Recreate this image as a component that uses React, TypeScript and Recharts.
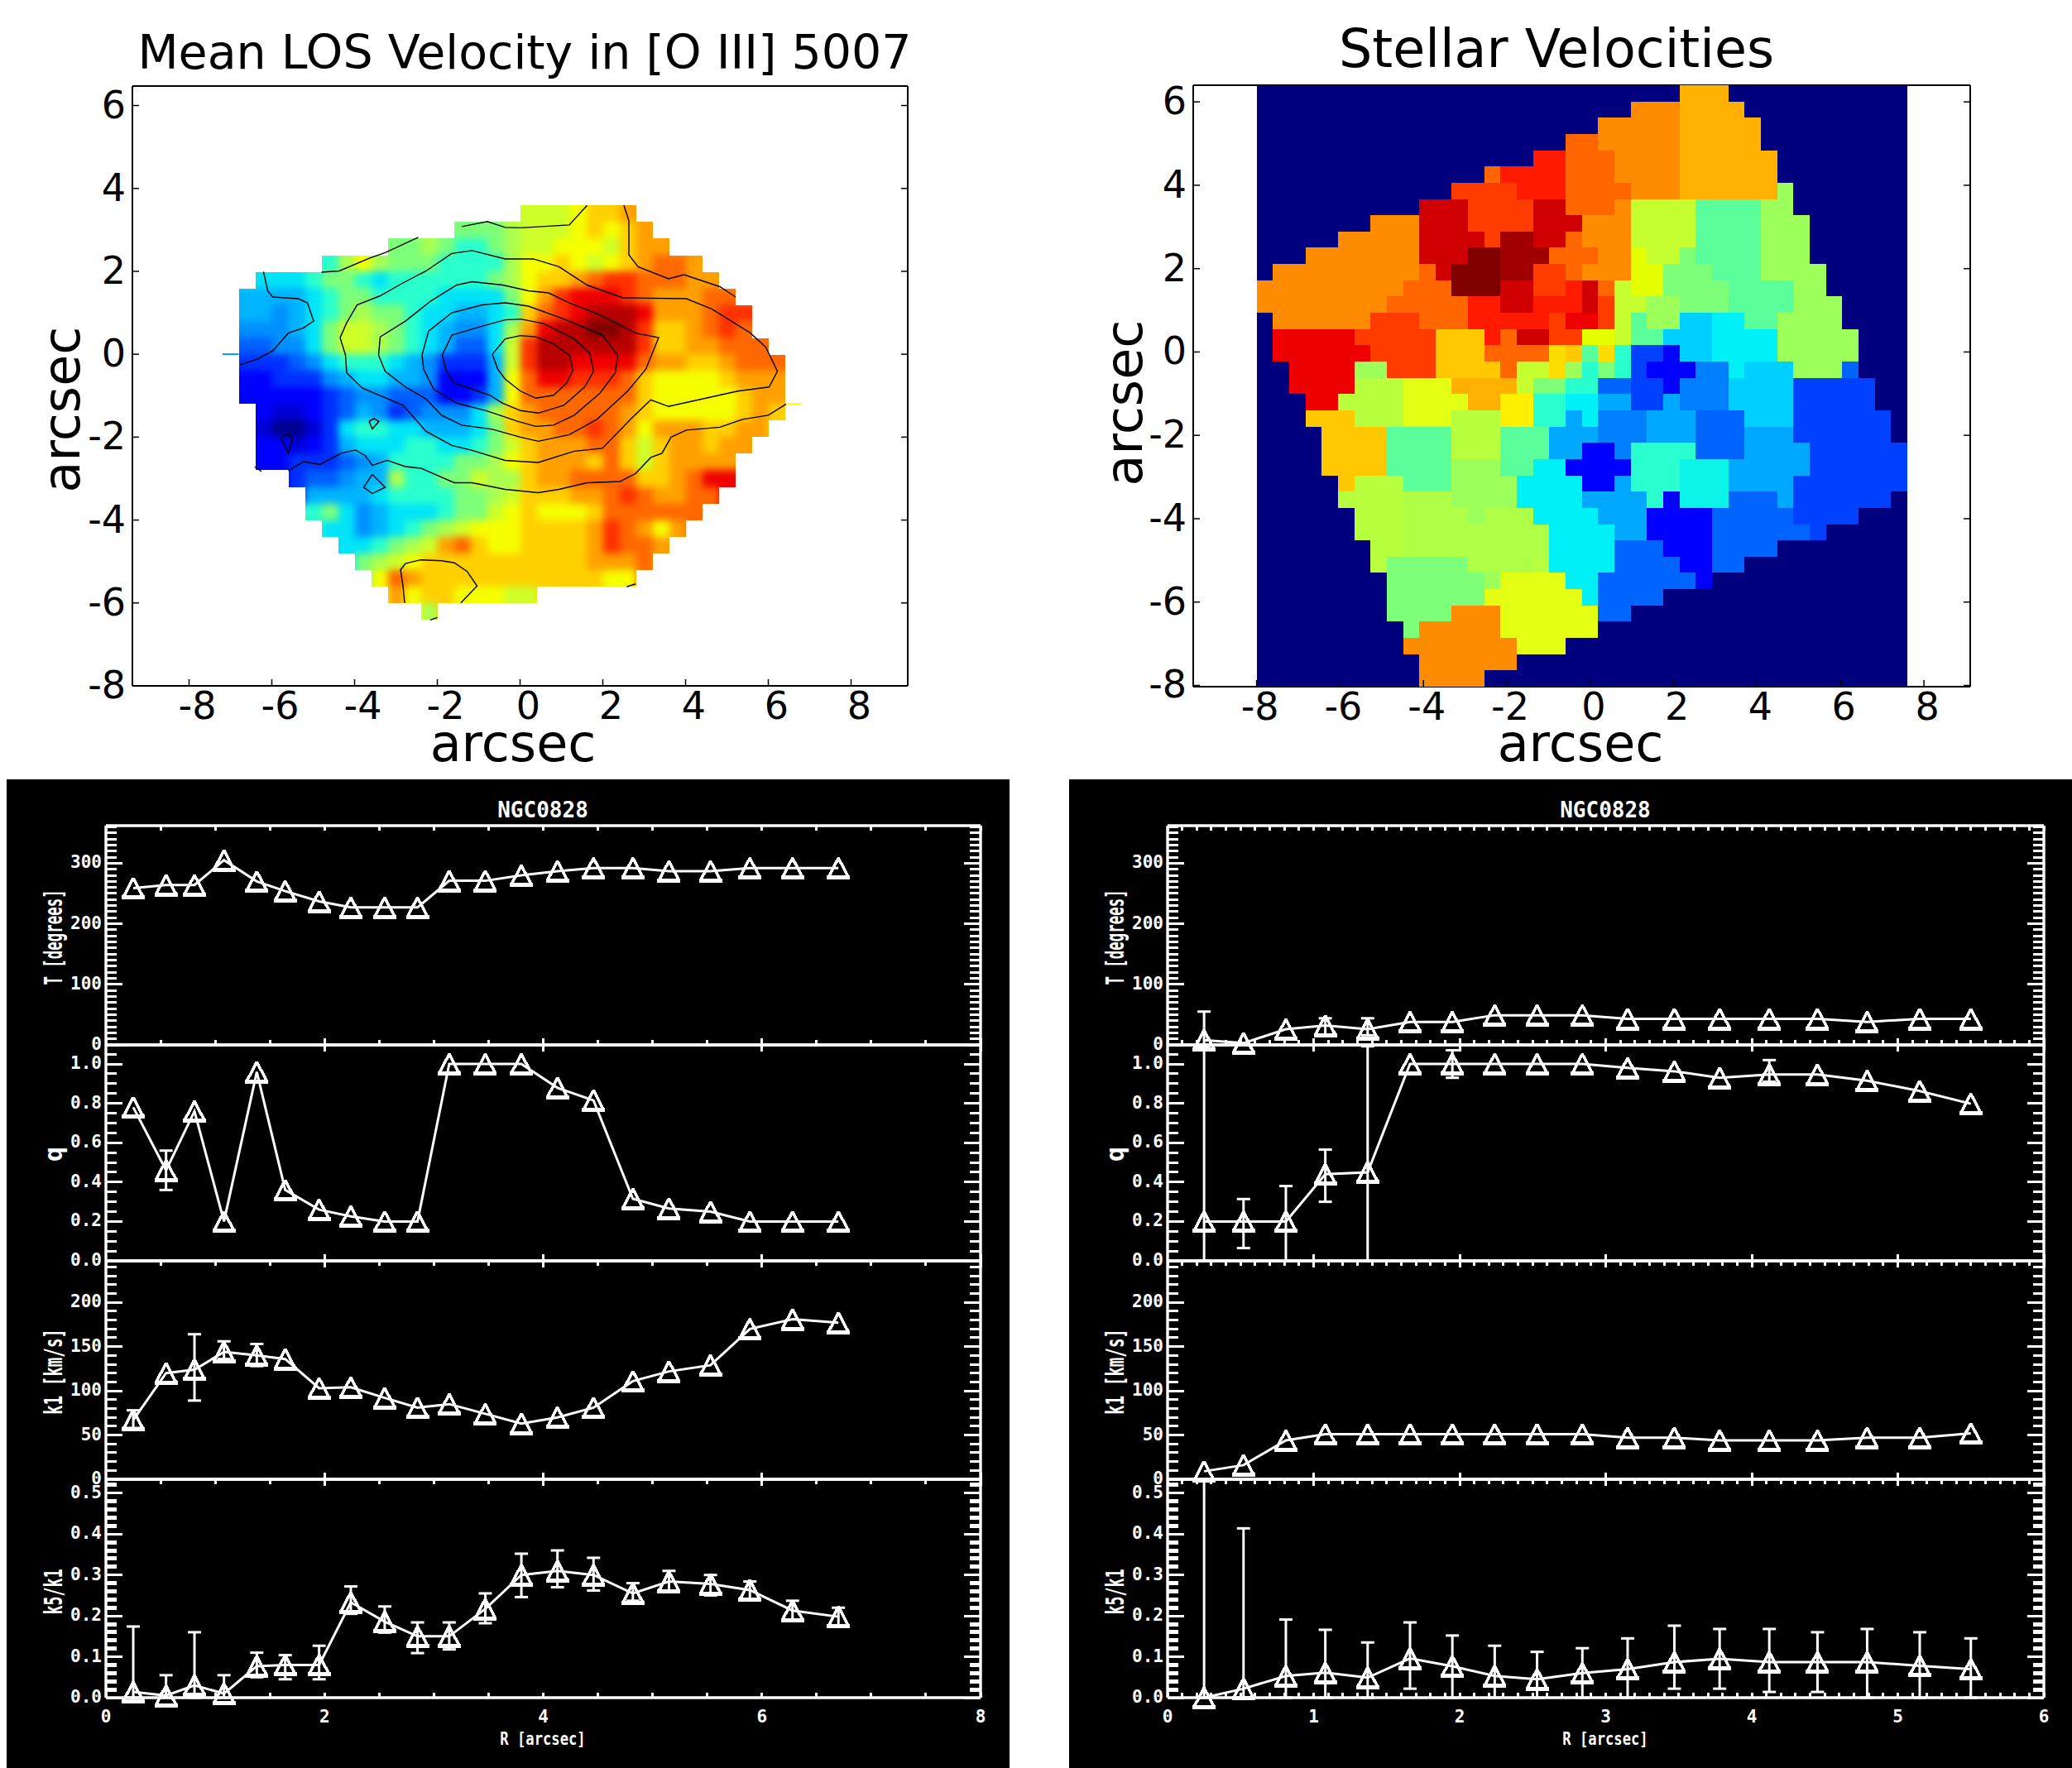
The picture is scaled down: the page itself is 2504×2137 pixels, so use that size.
import { ScatterChart, Scatter, XAxis, YAxis, LineChart, Line, ErrorBar } from 'recharts';

// ---- [O III] velocity map: rows top to bottom, "startCol code+endCol ..."
const VEL_COLORS: Record<string, string> = {
  a: '#00008f', b: '#0000d6', c: '#0000ff', d: '#0030ff', e: '#0060ff', f: '#0090ff', g: '#00b4ff',
  h: '#00e4f8', i: '#29ffce', j: '#7dff7a', k: '#aaff50', l: '#ceff29', m: '#f5ff00', n: '#ffd000',
  o: '#ffa000', p: '#ff6800', q: '#ff3000', r: '#f00000', s: '#b80000', t: '#800000',
};
const VEL_ROWS = [
  '17 l20 m21 n23 o24',
  '13 j16 k17 l20 m21 n22 m23 n24 o25',
  '9 j11 k12 j13 i15 j16 k17 l19 m22 l23 n24 o26',
  '5 i6 k7 m8 k9 j12 i16 k17 m19 n20 m21 l22 m23 n24 o25 p27 o28',
  '1 h4 i5 j7 i8 h9 i15 j16 k17 m18 n20 o21 p22 q24 p27 o29',
  '0 g4 h5 i6 j8 i12 h16 j17 m18 o19 q20 r23 q24 p25 o28 p30',
  '0 g2 f3 g4 h5 i6 j7 k8 j10 i11 h13 g15 h16 i17 n18 p19 q20 r21 s24 r25 o28 p29 q31',
  '0 f3 g4 h5 j6 l8 k9 j10 i11 h12 g13 f15 h16 k17 o18 r19 s21 t23 s24 q25 n27 o28 p29 q30 p31',
  '0 e2 f4 h5 j6 l8 k9 j10 i11 h12 g13 e15 h16 l17 q18 s24 q25 n27 o29 p32',
  '0 d3 e4 f5 h6 i9 h10 g11 f12 d15 g16 l17 q18 s20 r24 p25 o27 n29 o30 p33',
  '0 c2 d5 f6 g7 h9 g11 f12 c15 g16 m17 p18 r20 q23 p24 n25 m29 n30 o33',
  '0 c5 d6 e7 f9 e12 c14 d15 g16 m17 p24 n25 m30 n31 o33',
  '1 c2 b4 c5 d6 e7 g8 f9 d10 e11 f14 h15 k16 n17 o18 p23 o24 n25 m30 n31 o32 n33',
  '1 b2 a4 b5 d6 h7 i9 h11 g14 h15 j16 n17 o19 p21 q22 p23 o24 m25 o28 n30 o32',
  '1 c3 b4 c5 d6 g7 h10 i12 h14 i15 j16 l17 n18 o21 p23 n24 l25 n26 o28 n29 o31',
  '1 c3 d6 e7 f8 g9 i13 j15 k16 m17 n18 o21 n22 p23 n24 l25 n26 o30',
  '3 d4 e6 f7 g9 k10 i12 j14 l15 k17 n18 o20 p24 n26 o27 p28 r30',
  '4 g8 h9 i13 j15 k16 l17 n20 o22 p23 q24 p25 o27 p29',
  '4 i5 j6 h7 f8 g9 h12 i13 j15 l16 m17 n18 m21 n22 p28',
  '5 h7 f8 g9 h10 i11 j12 k13 l14 m17 n21 o22 q23 p24 o25 m26 o27',
  '6 h8 i9 j10 k11 l12 o13 p14 n15 m17 n21 o22 q23 p25 o26',
  '7 j8 k9 l10 m11 n21 o24 p25',
  '8 m9 p10 o11 n22 m24',
  '9 o10 m11 n13 m16 l18',
  '11 k12',
];

// ---- contour lines over the velocity map, [x, y] in arcsec
const CONTOURS: number[][][] = [
  [[-0.67, 0], [-0.36, 0.37], [0.01, 0.45], [0.38, 0.42], [0.81, 0.25], [1.19, -0.02], [1.28, -0.39], [1.12, -0.7], [0.81, -0.99], [0.38, -1.06], [0.01, -0.89], [-0.36, -0.6], [-0.54, -0.36], [-0.67, 0]],
  [[-1.65, 0.46], [-1.88, -0.02], [-1.78, -0.41], [-1.59, -0.7], [-1.16, -0.84], [-0.73, -0.99], [-0.42, -1.18], [0.01, -1.36], [0.44, -1.42], [1.06, -1.23], [1.56, -0.79], [1.78, -0.41], [1.68, 0.03], [1.31, 0.37], [0.57, 0.74], [0.01, 0.85], [-0.36, 0.83], [-0.91, 0.68], [-1.65, 0.46]],
  [[-2.37, -0.02], [-2.21, 0.56], [-1.65, 1.0], [-0.91, 1.19], [-0.36, 1.24], [0.2, 1.16], [1.06, 0.85], [1.99, 0.46], [2.36, -0.02], [2.3, -0.45], [1.93, -0.94], [1.31, -1.47], [0.81, -1.71], [0.38, -1.74], [-0.05, -1.62], [-0.79, -1.37], [-1.53, -1.18], [-2.09, -0.84], [-2.33, -0.36], [-2.37, -0.02]],
  [[-3.42, -0.02], [-3.38, 0.42], [-2.77, 0.8], [-2.15, 1.29], [-1.53, 1.67], [-1.16, 1.75], [-0.42, 1.67], [0.2, 1.53], [0.69, 1.48], [1.19, 1.24], [1.93, 0.95], [2.79, 0.51], [3.35, 0.4], [3.04, -0.36], [2.6, -0.89], [1.86, -1.57], [1.19, -1.94], [0.44, -2.1], [0.01, -2.0], [-0.67, -1.81], [-1.41, -1.71], [-1.9, -1.47], [-2.27, -1.08], [-2.77, -0.79], [-3.26, -0.41], [-3.42, -0.02]],
  [[-4.35, 0.4], [-4.19, 0.76], [-3.94, 1.19], [-3.38, 1.41], [-2.83, 1.72], [-2.27, 2.01], [-1.65, 2.43], [-1.16, 2.5], [-0.36, 2.3], [0.32, 2.3], [0.94, 2.11], [1.62, 1.67], [2.48, 1.36], [4.02, 1.34], [4.64, 1.09], [5.57, 0.51], [5.94, 0.17], [6.22, -0.41], [6.02, -0.79], [5.26, -0.89], [4.4, -1.08], [3.59, -1.26], [3.16, -1.1], [2.67, -1.57], [1.99, -2.27], [1.31, -2.34], [0.44, -2.61], [-0.36, -2.56], [-1.16, -2.32], [-1.65, -2.2], [-2.27, -1.86], [-2.83, -1.23], [-3.81, -0.82], [-4.19, -0.45], [-4.22, -0.02], [-4.35, 0.4]],
  [[-4.8, 1.98], [-4.37, 2.01], [-3.63, 2.32], [-3.26, 2.45], [-2.46, 2.82]],
  [[-1.41, 3.08], [-0.79, 3.2], [-0.36, 3.06], [0.01, 3.05], [1.19, 3.12], [1.62, 3.59]],
  [[2.51, 3.59], [2.63, 3.22], [2.63, 2.4], [2.85, 2.11], [3.59, 1.82], [3.96, 1.92], [4.83, 1.63], [5.21, 1.38]],
  [[-6.2, 1.99], [-6.1, 1.53], [-5.98, 1.38], [-5.36, 1.34], [-5.14, 1.24], [-4.99, 0.8], [-5.23, 0.64], [-5.6, 0.51], [-5.98, 0.08], [-6.35, -0.12], [-6.78, -0.26]],
  [[-5.6, -2.81], [-5.23, -2.59], [-4.83, -2.66], [-4.33, -2.39], [-3.98, -2.31], [-3.75, -2.44], [-3.57, -2.68], [-3.21, -2.56], [-2.77, -2.71], [-2.4, -2.75], [-1.59, -3.1], [-1.16, -3.1], [-0.36, -3.26], [0.44, -3.34], [0.94, -3.26], [1.62, -3.1], [2.42, -3.07], [2.79, -2.88], [3.16, -2.49], [3.43, -2.39], [3.65, -2.0], [4.02, -1.83], [4.83, -1.76], [5.38, -1.57], [6.0, -1.47], [6.43, -1.2]],
  [[-6.41, -2.71], [-6.25, -2.83]],
  [[-3.65, -1.62], [-3.53, -1.55], [-3.41, -1.62], [-3.57, -1.8], [-3.65, -1.62]],
  [[-5.79, -2.0], [-5.58, -1.91], [-5.51, -2.05], [-5.6, -2.39], [-5.79, -2.0]],
  [[-3.57, -2.9], [-3.26, -3.21], [-3.57, -3.36], [-3.78, -3.21], [-3.57, -2.9]],
  [[-2.79, -6.0], [-2.83, -5.59], [-2.89, -5.2], [-2.77, -5.05], [-2.4, -4.96], [-1.9, -4.98], [-1.59, -5.03], [-1.28, -5.24], [-1.04, -5.59], [-1.43, -6.0]],
  [[2.58, -5.61], [2.79, -5.54]],
  [[-2.17, -6.41], [-2.0, -6.35]],
];
const STUB_BLUE = [[-7.19, 0], [-6.8, 0]];
const STUB_YELLOW = [[6.43, -1.2], [6.8, -1.2]];

// ---- stellar velocity bins
const STAR_COLORS: Record<string, string> = {
  N: '#00007f', A: '#ffb000', o: '#ff8c00', p: '#ff6600', q: '#ff3c00', r: '#ff1a00', d: '#d00000',
  D: '#a00000', K: '#800000', e: '#ee0000', g: '#ffc800', G: '#ffdc00', Z: '#fff000', y: '#e6ff00',
  Y: '#e2ff14', l: '#c6ff30', L: '#b8ff3e', M: '#b0ff47', m: '#9cff5a', v: '#7dff7a', t: '#5aff9c',
  i: '#29ffce', C: '#0cf4ea', c: '#00f0f8', s: '#00d0ff', b: '#00a8ff', B: '#0080ff', f: '#0064ff',
  F: '#0040ff', u: '#0000ff',
};
const STAR_ROWS = [
  '26 A29',
  '23 o26 A30',
  '21 o26 A31',
  '19 p21 o26 A31',
  '17 r19 p22 o26 A32',
  '14 p15 r19 p22 o26 A32',
  '12 q16 r19 p23 o26 A32 m33',
  '10 d13 q17 d19 p22 o23 l27 t31 m33',
  '7 o10 d13 q17 d20 o23 l27 t31 m34',
  '5 o10 d14 q15 D17 d19 p20 o23 l27 t31 m34',
  '3 o10 d13 K15 D18 p21 o23 y24 l26 v27 t31 m34',
  '1 o10 p11 d12 K15 D17 q19 p20 o23 y25 v28 t31 m35',
  '0 o9 p12 K15 d17 q19 r20 d21 p22 l23 y25 v29 t33 m35',
  '0 o8 p13 r15 d17 r20 d21 q22 l24 m26 v29 t33 m36',
  '1 o7 q10 p13 r18 q19 e21 q22 l23 t24 m26 s28 c30 t32 m36',
  '1 e6 q11 g14 r15 p16 d18 q20 y22 l23 t25 s28 c32 m37',
  '1 e7 q11 g14 p18 G19 g20 t21 G22 i23 F25 u26 s28 c32 m37',
  '2 e6 m8 q11 g15 p16 l18 G19 m20 i21 v22 i23 F24 u27 B29 c30 s33 m36 f37',
  '2 e6 L9 Y12 A16 l17 v19 i21 f23 F25 u26 B29 s33 F38',
  '3 e5 L9 Y13 A15 Z17 i19 c21 b23 F25 b26 B29 s33 F38',
  '3 g6 L9 Y12 L15 Z17 i19 b20 c21 B24 b27 f30 s33 F39',
  '4 g8 t12 L15 t18 b21 B24 b27 f30 b33 F39',
  '4 g8 t12 L15 t18 b20 u22 B23 i27 f30 b34 F40',
  '4 g8 t12 m15 t17 c19 u23 i26 C29 b34 F40',
  '5 g6 L9 t12 m16 c20 u22 b23 i26 C29 b33 F40',
  '5 L9 M12 m16 c20 b24 i25 u26 C29 f32 b33 F39',
  '6 L9 M13 m14 M17 c21 b24 u28 f33 F37',
  '6 L9 M18 c22 b24 u28 f34 F35',
  '7 L9 M18 c22 f25 u28 f32',
  '7 L8 v13 M17 L18 c22 f26 u28 f30',
  '8 v14 m15 Y19 c21 f27 u28',
  '8 v14 Y20 c21 f25',
  '8 v12 o15 Y21 f23',
  '9 v10 o15 Y21',
  '9 o16 Y19',
  '10 o16',
  '10 o14',
];

// ---- radial profiles, gas (left) and stars (right)
const R_GAS = [0.25, 0.55, 0.81, 1.08, 1.38, 1.64, 1.95, 2.24, 2.55, 2.85, 3.14, 3.47, 3.8, 4.13, 4.46, 4.82, 5.15, 5.53, 5.89, 6.28, 6.7];
const T_GAS = [259, 264, 264, 305, 270, 254, 237, 227, 227, 227, 271, 271, 280, 287, 292, 292, 287, 287, 292, 292, 292];
const Q_GAS = [0.78, 0.46, 0.76, 0.2, 0.96, 0.36, 0.26, 0.226, 0.2, 0.2, 1.0, 1.0, 1.0, 0.879, 0.815, 0.315, 0.266, 0.25, 0.2, 0.2, 0.2];
const Q_GAS_LO = [null, 0.36];
const Q_GAS_HI = [null, 0.56];
const K1_GAS = [67, 120, 124, 144, 140, 136, 103, 104, 92, 81, 85, 74, 63, 70, 81, 111, 122, 129, 170, 181, 177];
const K1_GAS_LO = [58, null, 89, 136, 128];
const K1_GAS_HI = [78, null, 164, 156, 153];
const K5_GAS = [0.014, 0.005, 0.03, 0.01, 0.077, 0.08, 0.08, 0.233, 0.186, 0.15, 0.15, 0.217, 0.3, 0.31, 0.3, 0.255, 0.284, 0.278, 0.263, 0.213, 0.198];
const K5_GAS_LO = [0, 0, 0, 0, 0.05, 0.045, 0.045, 0.205, 0.159, 0.109, 0.118, 0.182, 0.246, 0.27, 0.262, 0.237, 0.262, 0.25, 0.24, 0.19, 0.174];
const K5_GAS_HI = [0.174, 0.055, 0.16, 0.055, 0.11, 0.104, 0.127, 0.272, 0.223, 0.184, 0.184, 0.255, 0.352, 0.36, 0.342, 0.28, 0.31, 0.3, 0.284, 0.237, 0.22];

const R_STAR = [0.25, 0.52, 0.81, 1.08, 1.37, 1.66, 1.95, 2.24, 2.53, 2.84, 3.15, 3.47, 3.78, 4.12, 4.45, 4.79, 5.15, 5.5];
const T_STAR = [8, 3, 26, 32, 26, 38, 38, 49, 49, 49, 43, 43, 43, 43, 43, 38, 43, 43];
const T_STAR_LO = [0, null, null, 16, 16];
const T_STAR_HI = [55, null, null, 44, 44];
const Q_STAR = [0.2, 0.2, 0.2, 0.44, 0.45, 1.0, 1.0, 1.0, 1.0, 1.0, 0.98, 0.963, 0.93, 0.947, 0.947, 0.915, 0.863, 0.798];
const Q_STAR_LO = [0, 0.065, 0, 0.3, 0, null, 0.93, null, null, null, null, null, null, 0.91];
const Q_STAR_HI = [1.09, 0.314, 0.38, 0.565, 1.09, null, 1.07, null, null, null, null, null, null, 1.02];
const K1_STAR = [9, 16, 44, 51, 51, 51, 51, 51, 51, 51, 47, 47, 44, 44, 44, 47, 47, 52];
const K5_STAR = [0.0, 0.022, 0.053, 0.061, 0.049, 0.096, 0.077, 0.053, 0.045, 0.06, 0.07, 0.087, 0.095, 0.087, 0.087, 0.087, 0.078, 0.07];
const K5_STAR_LO = [0, 0, 0, 0, 0, 0.022, 0, 0, 0, 0, 0, 0.022, 0.022, 0.014, 0.014, 0, 0, 0];
const K5_STAR_HI = [0.53, 0.414, 0.191, 0.166, 0.135, 0.184, 0.152, 0.127, 0.112, 0.121, 0.145, 0.176, 0.168, 0.168, 0.16, 0.168, 0.16, 0.145];

const MAP_X_TICKS = [-8, -6, -4, -2, 0, 2, 4, 6, 8];
const MAP_Y_TICKS = [-8, -6, -4, -2, 0, 2, 4, 6];

const MPL_FONT = '"DejaVu Sans", sans-serif';
const IDL_FONT = '"DejaVu Sans Mono", monospace';

function stepTicks(max: number, step: number) {
  const out: number[] = [];
  for (let i = 0; i * step <= max + 1e-9; i++) out.push(+(i * step).toFixed(4));
  return out;
}

// expand one "start code+end ..." row
function decodeRow(row: string): [number, string][] {
  const parts = row.split(' ');
  let col = Number(parts[0]);
  const out: [number, string][] = [];
  for (const p of parts.slice(1)) {
    const end = Number(p.slice(1));
    for (; col < end; col++) out.push([col, p[0]]);
  }
  return out;
}

function starCellList() {
  const step = 0.39;
  const cells: { x: number; y: number; fill: string }[] = [];
  STAR_ROWS.forEach((row, r) => {
    const decoded = new Map(decodeRow(row));
    for (let c = 0; c < 40; c++) {
      cells.push({ x: -8 + (c + 0.5) * step, y: 6.4 - (r + 0.5) * step, fill: STAR_COLORS[decoded.get(c) ?? 'N'] });
    }
  });
  return cells;
}

// velocity cells: outside the mask the nearest colour is bled out, then covered white,
// so the soft edge of the blurred layer keeps the staircase outline of the original
function velCellLists() {
  const step = 0.4;
  const filled: { c: number; r: number; code: string }[] = [];
  VEL_ROWS.forEach((row, r) => decodeRow(row).forEach(([c, code]) => filled.push({ c, r, code })));
  const inside = new Map(filled.map(f => [`${f.c},${f.r}`, f.code]));
  const soft: { x: number; y: number; fill: string }[] = [];
  const cover: { x: number; y: number; fill: string }[] = [];
  for (let r = -5; r < VEL_ROWS.length + 3; r++) {
    for (let c = -5; c < 38; c++) {
      const x = -6.8 + (c + 0.5) * step;
      const y = 3.6 - (r + 0.5) * step;
      const code = inside.get(`${c},${r}`);
      if (code) {
        soft.push({ x, y, fill: VEL_COLORS[code] });
        continue;
      }
      cover.push({ x, y, fill: '#fff' });
      if (r < -2 || r >= VEL_ROWS.length + 1 || c < -2 || c >= 35) continue;
      let best = filled[0], bestD = 1e9;
      for (const f of filled) {
        const d = Math.abs(f.c - c) + Math.abs(f.r - r);
        if (d < bestD) { bestD = d; best = f; }
      }
      soft.push({ x, y, fill: VEL_COLORS[best.code] });
    }
  }
  return { soft, cover };
}

const toPoints = (pts: number[][]) => pts.map(p => ({ x: p[0], y: p[1] }));

function CellSquare(size: number) {
  return (props: any) => (
    <rect x={props.cx - size / 2} y={props.cy - size / 2} width={size + 0.6} height={size + 0.6} fill={props.payload.fill} shapeRendering="crispEdges" />
  );
}

function MapTick({ side, labelled, shift = 0 }: { side: string; labelled: boolean; shift?: number }) {
  return (props: any) => {
    const { x, y, payload } = props;
    const len = 8;
    const line = side === 'bottom' ? [x, y, x, y - len] : side === 'top' ? [x, y, x, y + len] : side === 'left' ? [x, y, x + len, y] : [x, y, x - len, y];
    return (
      <g>
        <line x1={line[0]} y1={line[1]} x2={line[2]} y2={line[3]} stroke="#000" strokeWidth={1.5} />
        {labelled && side === 'bottom' && (
          <text x={x + shift} y={y + 40} textAnchor="middle" fontFamily={MPL_FONT} fontSize={46} fill="#000">{payload.value}</text>
        )}
        {labelled && side === 'left' && (
          <text x={x - 8} y={y + 15} textAnchor="end" fontFamily={MPL_FONT} fontSize={46} fill="#000">{payload.value}</text>
        )}
      </g>
    );
  };
}

interface MapProps {
  left: number; top: number; width: number; height: number;
  xDomain: number[]; yDomain: number[]; labelShift: number;
  children?: any;
}

function MapChart({ left, top, width, height, xDomain, yDomain, labelShift, children }: MapProps) {
  const padL = 110, padR = 20, padT = 20, padB = 60;
  const axisLine = { stroke: '#000', strokeWidth: 2 };
  return (
    <div style={{ position: 'absolute', left: left - padL, top: top - padT }}>
      <ScatterChart width={width + padL + padR} height={height + padT + padB} margin={{ left: padL - 1, right: padR - 1, top: padT - 1, bottom: padB - 1 }}>
        <XAxis dataKey="x" type="number" domain={xDomain} ticks={MAP_X_TICKS} interval={0} height={1} allowDataOverflow tickSize={0} tickMargin={0}
          axisLine={axisLine} tickLine={false} tick={MapTick({ side: 'bottom', labelled: true, shift: labelShift })} />
        <XAxis xAxisId="top" orientation="top" type="number" domain={xDomain} ticks={MAP_X_TICKS} interval={0} height={1} allowDataOverflow tickSize={0} tickMargin={0}
          axisLine={axisLine} tickLine={false} tick={MapTick({ side: 'top', labelled: false })} />
        <YAxis dataKey="y" type="number" domain={yDomain} ticks={MAP_Y_TICKS} interval={0} width={1} allowDataOverflow tickSize={0} tickMargin={0}
          axisLine={axisLine} tickLine={false} tick={MapTick({ side: 'left', labelled: true })} />
        <YAxis yAxisId="right" orientation="right" type="number" domain={yDomain} ticks={MAP_Y_TICKS} interval={0} width={1} allowDataOverflow tickSize={0} tickMargin={0}
          axisLine={axisLine} tickLine={false} tick={MapTick({ side: 'right', labelled: false })} />
        {children}
      </ScatterChart>
    </div>
  );
}

function ProfileTickY({ side, major, digits, thick }: { side: string; major: number; digits: number; thick: number }) {
  return (props: any) => {
    const { x, y, payload } = props;
    const v = payload.value;
    const isMajor = Math.abs(v / major - Math.round(v / major)) < 1e-6;
    const len = isMajor ? 20 : 13;
    const dir = side === 'left' ? 1 : -1;
    return (
      <g>
        <line x1={x} y1={y} x2={x + dir * len} y2={y} stroke="#fff" strokeWidth={isMajor ? 3 : thick} shapeRendering="crispEdges" />
        {side === 'left' && isMajor && (
          <text x={x - 5} y={y + 6} textAnchor="end" fontFamily={IDL_FONT} fontWeight={700} fontSize={21} fill="#fff">{v.toFixed(digits)}</text>
        )}
      </g>
    );
  };
}

function ProfileTickX({ side, major, mode, labelled }: { side: string; major: number; mode: string; labelled: boolean }) {
  return (props: any) => {
    const { x, y, payload } = props;
    const v = payload.value;
    const isMajor = Math.abs(v / major - Math.round(v / major)) < 1e-6;
    let y1 = y, y2 = y + 6;
    if (side === 'bottom') {
      if (mode === 'up') { y1 = y - 6; y2 = y; } else { y1 = y; y2 = y + 6; }
      if (isMajor && v !== 0) { y1 = y - 8; y2 = y + 8; }
      if (mode === 'end') { y1 = y - 6; y2 = y; }
    }
    return (
      <g>
        <line x1={x} y1={y1} x2={x} y2={y2} stroke="#fff" strokeWidth={3} shapeRendering="crispEdges" />
        {labelled && isMajor && (
          <text x={x} y={y + 30} textAnchor="middle" fontFamily={IDL_FONT} fontWeight={700} fontSize={21} fill="#fff">{v}</text>
        )}
      </g>
    );
  };
}

const TriangleDot = (props: any) => {
  const { cx, cy } = props;
  if (cx == null || cy == null) return <g />;
  return (
    <g shapeRendering="crispEdges">
      <path d={`M${cx} ${cy - 12} L${cx - 12} ${cy + 11} L${cx + 12} ${cy + 11} Z`} fill="none" stroke="#fff" strokeWidth={3.6} strokeLinejoin="bevel" />
      <rect x={cx - 14} y={cy + 9} width={28} height={5} fill="#fff" />
    </g>
  );
};

function buildRows(r: number[], v: number[], lo?: (number | null)[], hi?: (number | null)[]) {
  return r.map((rv, i) => {
    const l = lo?.[i], h = hi?.[i];
    return { r: rv, v: v[i], err: l != null && h != null ? [v[i] - l, h - v[i]] : undefined };
  });
}

interface PanelProps {
  left: number; top: number; width: number; height: number;
  rows: any[];
  yDomain: number[]; yMinor: number; yMajor: number; digits: number;
  xMax: number; xMinor: number; xMajor: number;
  mode: string; labelled?: boolean; thick?: number; showTop?: boolean;
}

function ProfilePanel({ left, top, width, height, rows, yDomain, yMinor, yMajor, digits, xMax, xMinor, xMajor, mode, labelled = false, thick = 3, showTop = false }: PanelProps) {
  const padL = 80, padR = 20, padT = 20, padB = 50;
  const yTicks = stepTicks(yDomain[1], yMinor);
  const xTicks = stepTicks(xMax, xMinor);
  const axisLine = { stroke: '#fff', strokeWidth: 3.4 };
  return (
    <div style={{ position: 'absolute', left: left - padL, top: top - padT }}>
      <LineChart width={width + padL + padR} height={height + padT + padB} data={rows} margin={{ left: padL - 1, right: padR - 1, top: padT - 1, bottom: padB - 1 }}>
        <XAxis dataKey="r" type="number" domain={[0, xMax]} ticks={xTicks} interval={0} height={1} tickSize={0} tickMargin={0} axisLine={axisLine} tickLine={false}
          tick={ProfileTickX({ side: 'bottom', major: xMajor, mode, labelled })} />
        <XAxis xAxisId="top" dataKey="r" orientation="top" type="number" domain={[0, xMax]} allowDataOverflow ticks={xTicks} interval={0} height={1} tickSize={0} tickMargin={0} axisLine={axisLine} tickLine={false}
          tick={showTop ? ProfileTickX({ side: 'top', major: xMajor, mode, labelled: false }) : false} />
        <YAxis type="number" domain={yDomain} ticks={yTicks} interval={0} width={1} tickSize={0} tickMargin={0} axisLine={axisLine} tickLine={false}
          tick={ProfileTickY({ side: 'left', major: yMajor, digits, thick })} />
        <YAxis yAxisId="right" orientation="right" type="number" domain={yDomain} allowDataOverflow ticks={yTicks} interval={0} width={1} tickSize={0} tickMargin={0} axisLine={axisLine} tickLine={false}
          tick={ProfileTickY({ side: 'right', major: yMajor, digits, thick })} />
        <Line dataKey="v" type="linear" stroke="#fff" strokeWidth={3} dot={TriangleDot} isAnimationActive={false}>
          <ErrorBar dataKey="err" direction="y" width={8} stroke="#fff" strokeWidth={3} isAnimationActive={false} />
        </Line>
      </LineChart>
    </div>
  );
}

function PlainText({ x, y, text, size, color, font, rotate = 0, squeeze = 1, weight = 400 }: any) {
  return (
    <div style={{
      position: 'absolute', left: x, top: y, fontFamily: font, fontSize: size, color, fontWeight: weight, lineHeight: 1, whiteSpace: 'pre',
      transform: `translate(-50%, -50%) rotate(${rotate}deg) scaleX(${squeeze})`,
    }}>{text}</div>
  );
}

function ProfileStack({ plotLeft, width, xMax, xMinor, xMajor, panels }: any) {
  const tops = [998, 1263, 1524, 1788];
  const heights = [265, 261, 264, 264];
  const specs = [
    { yDomain: [0, 362], yMinor: 10, yMajor: 100, digits: 0, mode: 'up', showTop: true },
    { yDomain: [0, 1.097], yMinor: 0.05, yMajor: 0.2, digits: 1, mode: 'down' },
    { yDomain: [0, 247], yMinor: 10, yMajor: 50, digits: 0, mode: 'down' },
    { yDomain: [0, 0.534], yMinor: 0.02, yMajor: 0.1, digits: 1, mode: 'end', labelled: true, thick: 5 },
  ];
  const titles = [
    { text: 'T [degrees]', y: 1133, len: 0.58 },
    { text: 'q', y: 1395, len: 1 },
    { text: 'k1 [km/s]', y: 1658, len: 0.64 },
    { text: 'k5/k1', y: 1924, len: 0.61 },
  ];
  const center = plotLeft + 528 * (width / 1057);
  return (
    <>
      {specs.map((s, i) => (
        <ProfilePanel key={i} left={plotLeft} top={tops[i]} width={width} height={heights[i]} rows={panels[i]} xMax={xMax} xMinor={xMinor} xMajor={xMajor} {...s} />
      ))}
      {titles.map(t => (
        <PlainText key={t.text} x={plotLeft - 63} y={t.y} text={t.text} size={30} color="#fff" font={IDL_FONT} weight={700} rotate={-90} squeeze={t.len} />
      ))}
      <PlainText x={center} y={979} text="NGC0828" size={26} color="#fff" font={IDL_FONT} weight={700} />
      <PlainText x={center} y={2102} text="R [arcsec]" size={22} color="#fff" font={IDL_FONT} weight={700} squeeze={0.78} />
    </>
  );
}

export default function App() {
  const vel = velCellLists();
  const starCells = starCellList();

  const gasPanels = [
    buildRows(R_GAS, T_GAS),
    buildRows(R_GAS, Q_GAS, Q_GAS_LO, Q_GAS_HI),
    buildRows(R_GAS, K1_GAS, K1_GAS_LO, K1_GAS_HI),
    buildRows(R_GAS, K5_GAS, K5_GAS_LO, K5_GAS_HI),
  ];
  const starPanels = [
    buildRows(R_STAR, T_STAR, T_STAR_LO, T_STAR_HI),
    buildRows(R_STAR, Q_STAR, Q_STAR_LO, Q_STAR_HI),
    buildRows(R_STAR, K1_STAR),
    buildRows(R_STAR, K5_STAR, K5_STAR_LO, K5_STAR_HI),
  ];

  return (
    <div style={{ position: 'absolute', left: 0, top: 0, width: 2504, height: 2137, background: '#fff', overflow: 'hidden' }}>
      <style>{'.vel-soft { filter: blur(5px); }'}</style>
      <MapChart left={160} top={104} width={937} height={725} xDomain={[-9.37, 9.37]} yDomain={[-8, 6.47]} labelShift={10}>
        <Scatter className="vel-soft" data={vel.soft} shape={CellSquare(20)} isAnimationActive={false} />
        <Scatter data={vel.cover} shape={CellSquare(20)} isAnimationActive={false} />
        {CONTOURS.map((c, i) => (
          <Scatter key={i} data={toPoints(c)} line={{ stroke: '#000', strokeWidth: 1.4 }} lineType="joint" shape={() => <g />} isAnimationActive={false} />
        ))}
        <Scatter data={toPoints(STUB_BLUE)} line={{ stroke: '#0090ff', strokeWidth: 2 }} lineType="joint" shape={() => <g />} isAnimationActive={false} />
        <Scatter data={toPoints(STUB_YELLOW)} line={{ stroke: '#f5ff00', strokeWidth: 2 }} lineType="joint" shape={() => <g />} isAnimationActive={false} />
      </MapChart>
      <MapChart left={1442} top={103} width={939} height={727} xDomain={[-9.52, 9.11]} yDomain={[-8.03, 6.4]} labelShift={4}>
        <Scatter data={starCells} shape={CellSquare(19.65)} isAnimationActive={false} />
      </MapChart>

      <PlainText x={634} y={63} text="Mean LOS Velocity in [O III] 5007" size={57} color="#000" font={MPL_FONT} />
      <PlainText x={1881} y={60} text="Stellar Velocities" size={63.5} color="#000" font={MPL_FONT} />
      <PlainText x={620} y={899} text="arcsec" size={62} color="#000" font={MPL_FONT} />
      <PlainText x={1910} y={899} text="arcsec" size={62} color="#000" font={MPL_FONT} />
      <PlainText x={75} y={495} text="arcsec" size={62} color="#000" font={MPL_FONT} rotate={-90} />
      <PlainText x={1359} y={487} text="arcsec" size={62} color="#000" font={MPL_FONT} rotate={-90} />

      <div style={{ position: 'absolute', left: 8, top: 942, width: 1212, height: 1195, background: '#000' }} />
      <div style={{ position: 'absolute', left: 1292, top: 942, width: 1212, height: 1195, background: '#000' }} />

      <ProfileStack plotLeft={128} width={1057} xMax={8} xMinor={0.5} xMajor={2} panels={gasPanels} />
      <ProfileStack plotLeft={1411} width={1059} xMax={6} xMinor={0.1} xMajor={1} panels={starPanels} />
    </div>
  );
}
